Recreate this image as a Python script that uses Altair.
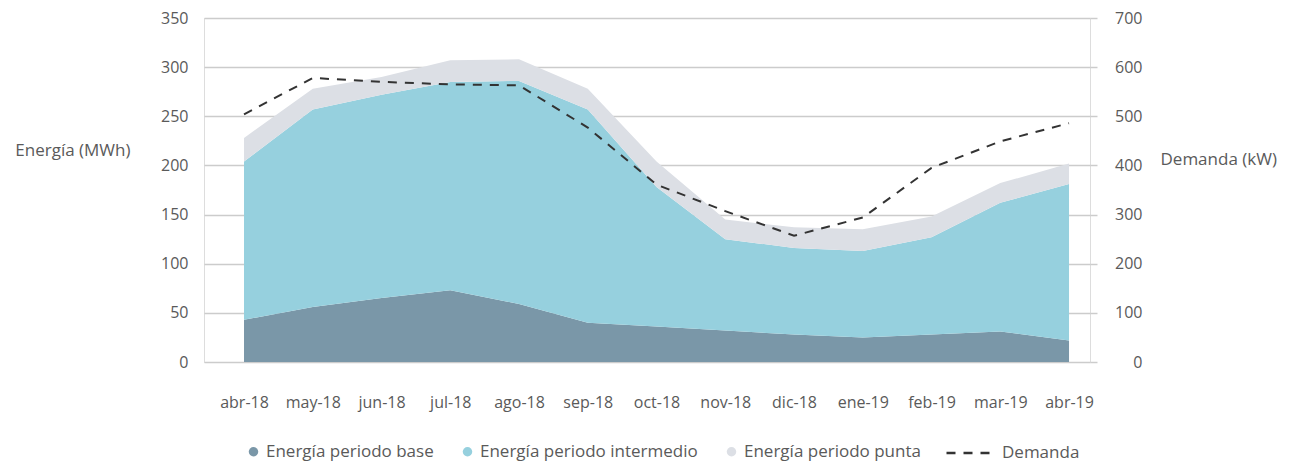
import altair as alt
import pandas as pd

months = ["abr-18", "may-18", "jun-18", "jul-18", "ago-18", "sep-18", "oct-18",
          "nov-18", "dic-18", "ene-19", "feb-19", "mar-19", "abr-19"]
base = [43, 56, 65, 73, 59, 40, 36, 32, 28, 25, 28, 31, 22]
intermedio = [161, 201, 207, 212, 227, 217, 142, 93, 88, 88, 99, 131, 159]
punta = [24, 21, 18, 22, 22, 21, 26, 20, 21, 22, 21, 20, 21]
demanda = [504, 578, 570, 565, 563, 477, 361, 307, 257, 294, 395, 449, 486]

series_names = ["Energía periodo base", "Energía periodo intermedio", "Energía periodo punta"]
series_colors = ["#7a97a8", "#96d0de", "#dcdfe5"]

rows = []
for k, (name, vals) in enumerate(zip(series_names, [base, intermedio, punta])):
    for i, v in enumerate(vals):
        rows.append({"idx": i, "mes": months[i], "serie": name, "ord": k, "value": v})
df = pd.DataFrame(rows)
df_d = pd.DataFrame({"idx": list(range(len(months))), "mes": months,
                     "demanda": demanda, "serie": ["Demanda"] * len(months)})

FONT = "Open Sans"
TXT = "#5a5a5a"
TICK_FS = 16
BIG_FS = 17
label_expr = "[" + ",".join("'" + m + "'" for m in months) + "][datum.value]"

x_enc = alt.X("idx:Q",
              scale=alt.Scale(domain=[-0.582, 12.305], nice=False, zero=False),
              axis=alt.Axis(values=list(range(len(months))), labelExpr=label_expr,
                            title=None, grid=False, domain=False, ticks=False,
                            labelPadding=32, labelFontSize=TICK_FS, labelColor=TXT,
                            labelFont=FONT))

areas = alt.Chart(df).mark_area(interpolate="linear").encode(
    x=x_enc,
    y=alt.Y("value:Q", stack="zero",
            scale=alt.Scale(domain=[0, 350], nice=False),
            axis=alt.Axis(values=[0, 50, 100, 150, 200, 250, 300, 350],
                          title="Energía (MWh)", titleAngle=0, titleAlign="right",
                          titleBaseline="middle", titleX=-74, titleY=132,
                          titleFontSize=BIG_FS, titleFontWeight="normal", titleColor=TXT,
                          titleFont=FONT,
                          grid=True, gridColor="#cccccc", gridWidth=1.5,
                          domain=False, ticks=False, labelPadding=16,
                          labelFontSize=TICK_FS, labelColor=TXT, labelFont=FONT)),
    color=alt.Color("serie:N",
                    scale=alt.Scale(domain=series_names, range=series_colors),
                    legend=alt.Legend(title=None, orient="none", direction="horizontal",
                                      legendX=41, legendY=425, symbolType="circle",
                                      symbolSize=90, symbolStrokeWidth=0,
                                      labelFontSize=BIG_FS, labelColor=TXT, labelFont=FONT,
                                      labelLimit=400, labelOffset=4, columnPadding=25)),
    order=alt.Order("ord:Q"),
)

line = alt.Chart(df_d).mark_line(color="#333333", strokeWidth=2, strokeDash=[9, 8],
                                 interpolate="linear").encode(
    x=alt.X("idx:Q"),
    y=alt.Y("demanda:Q",
            scale=alt.Scale(domain=[0, 700], nice=False),
            axis=alt.Axis(orient="right", values=[0, 100, 200, 300, 400, 500, 600, 700],
                          title="Demanda (kW)", titleAngle=0, titleAlign="left",
                          titleBaseline="middle", titleX=70, titleY=141,
                          titleFontSize=BIG_FS, titleFontWeight="normal", titleColor=TXT,
                          titleFont=FONT,
                          grid=False, domain=False, ticks=True, tickSize=7,
                          tickColor="#cccccc", tickWidth=1.5,
                          labelAlign="right", labelPadding=45,
                          labelFontSize=TICK_FS, labelColor=TXT, labelFont=FONT)),
    strokeDash=alt.StrokeDash("serie:N",
                              scale=alt.Scale(domain=["Demanda"], range=[[9, 8]]),
                              legend=alt.Legend(title=None, orient="none",
                                                legendX=741, legendY=412,
                                                symbolType="stroke", symbolSize=1849,
                                                symbolStrokeColor="#333333",
                                                symbolStrokeWidth=2.5,
                                                labelFontSize=BIG_FS, labelColor=TXT,
                                                labelFont=FONT, labelOffset=11)),
)

chart = alt.layer(areas, line).resolve_scale(
    y="independent", color="independent", strokeDash="independent"
).properties(
    width=886, height=344,
    autosize=alt.AutoSizeParams(type="none"),
    padding={"left": 196, "top": 10, "right": 191, "bottom": 101},
).configure_view(stroke=None).configure(background="white")

chart.save("out.html", embed_options={"renderer": "svg", "actions": False})
